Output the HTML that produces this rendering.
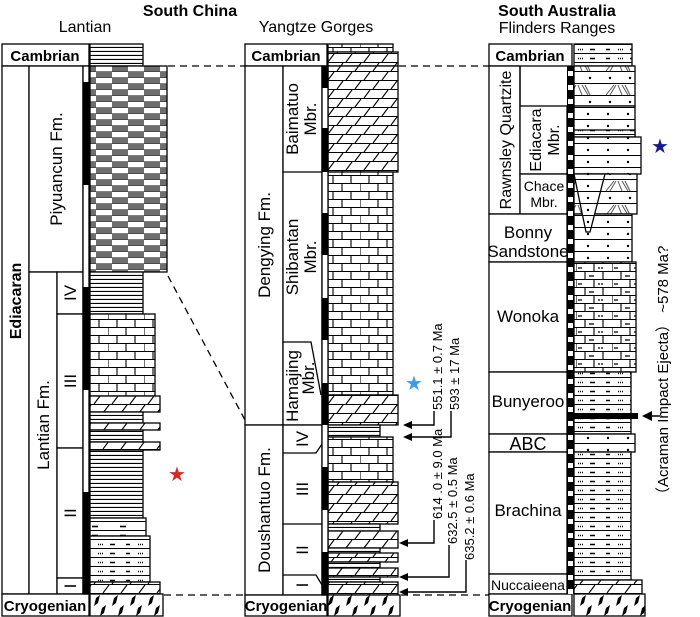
<!DOCTYPE html>
<html><head><meta charset="utf-8"><style>
html,body{margin:0;padding:0;background:#fff;}
svg{display:block;font-family:"Liberation Sans",Arial,sans-serif;}
</style></head><body>
<svg width="700" height="617" viewBox="0 0 700 617" xmlns="http://www.w3.org/2000/svg">
<defs>
<pattern id="hl" width="10" height="4" patternUnits="userSpaceOnUse"><rect width="10" height="4" fill="#fff"/><line x1="0" y1="3.5" x2="10" y2="3.5" stroke="#000" stroke-width="1.2"/></pattern>
<pattern id="brick" width="36" height="16" patternUnits="userSpaceOnUse"><rect width="36" height="16" fill="#fff"/><path d="M0 7.5H36M0 15.5H36M9 0V8M27 0V8M0 8V16M18 8V16" stroke="#000" stroke-width="1.1" fill="none"/></pattern>
<pattern id="dolo" width="36" height="18" patternUnits="userSpaceOnUse"><rect width="36" height="18" fill="#fff"/><path d="M0 8.5H36M0 17.5H36M4 8L10 0M22 8L28 0M13 17L19 9M31 17L37 9M-5 17L1 9" stroke="#000" stroke-width="1.1" fill="none"/></pattern>
<pattern id="chk" width="32" height="12" patternUnits="userSpaceOnUse"><rect width="32" height="12" fill="#fff"/><rect x="0" y="0" width="16" height="6" fill="#6e6e6e"/><rect x="16" y="6" width="16" height="6" fill="#6e6e6e"/><path d="M0 5.7H32M0 11.7H32" stroke="#333" stroke-width="0.6"/></pattern>
<pattern id="silt" width="40" height="9" patternUnits="userSpaceOnUse"><rect width="40" height="9" fill="#fff"/><line x1="0" y1="8.5" x2="40" y2="8.5" stroke="#000" stroke-width="1.1"/><path d="M6 4.5h4M18 4.5h1M20 4.5h1M22 4.5h1M30 4.5h5" stroke="#000" stroke-width="1.4"/></pattern>
<pattern id="shale" width="28" height="9" patternUnits="userSpaceOnUse"><rect width="28" height="9" fill="#fff"/><line x1="0" y1="8.5" x2="28" y2="8.5" stroke="#000" stroke-width="1.1"/><path d="M8 4.5h6" stroke="#000" stroke-width="1.6"/></pattern>
<pattern id="sand" width="20" height="12" patternUnits="userSpaceOnUse"><rect width="20" height="12" fill="#fff"/><line x1="0" y1="11.5" x2="20" y2="11.5" stroke="#000" stroke-width="1.1"/><circle cx="8" cy="6" r="1.2" fill="#000"/></pattern>
<pattern id="dia" width="18" height="22" patternUnits="userSpaceOnUse"><rect width="18" height="22" fill="#fff"/><path d="M6 4l4-3l-2 8l-4 3z M12 14l4-3l-2 8l-4 3z" fill="#000"/></pattern>
<pattern id="pchk" width="7" height="14" patternUnits="userSpaceOnUse"><rect width="7" height="14" fill="#000"/><rect x="1" y="1" width="5" height="5" fill="#fff"/></pattern>
<pattern id="lsilt" width="36" height="16" patternUnits="userSpaceOnUse"><rect width="36" height="16" fill="#fff"/><path d="M0 7.5H36M0 15.5H36M9 0V8M27 0V8M0 8V16M18 8V16" stroke="#000" stroke-width="1.1" fill="none"/><path d="M13 4h5M2 12h4M22 12h2M25 12h2" stroke="#000" stroke-width="1.3"/></pattern>
<pattern id="xbed" width="40" height="24" patternUnits="userSpaceOnUse"><rect width="40" height="24" fill="#fff"/><path d="M0 11.5H40M0 23.5H40" stroke="#000" stroke-width="1.1"/><circle cx="10" cy="6" r="1.2"/><circle cx="30" cy="6" r="1.2"/><path d="M6 23l8-10M10 23l6-10M22 13l6 10M25 13l5 10M18 13l4 10" stroke="#555" stroke-width="1"/></pattern>
</defs>

<text x="190" y="16" font-size="16" font-weight="bold" text-anchor="middle">South China</text>
<text x="85" y="32" font-size="16" text-anchor="middle">Lantian</text>
<text x="316" y="32" font-size="16" text-anchor="middle">Yangtze Gorges</text>
<text x="557" y="16" font-size="16" font-weight="bold" text-anchor="middle">South Australia</text>
<text x="557" y="33" font-size="16" text-anchor="middle">Flinders Ranges</text>

<g stroke="#000" stroke-width="1.3" stroke-dasharray="7,5" fill="none">
<path d="M168 66H245M399 66H489M164 595H245M401 595H489M168 276L245 420"/>
</g>

<g stroke="#000" stroke-width="1.3">
<rect x="90" y="44" width="53" height="22" fill="url(#hl)"/>
<rect x="90" y="66" width="77" height="206" fill="url(#chk)"/>
<rect x="90" y="272" width="53" height="42" fill="url(#hl)"/>
<rect x="90" y="314" width="65" height="82" fill="url(#brick)"/>
<rect x="90" y="396" width="70" height="16" fill="url(#dolo)"/>
<rect x="90" y="412" width="53" height="11" fill="url(#hl)"/>
<rect x="90" y="423" width="70" height="7" fill="url(#dolo)"/>
<rect x="90" y="430" width="53" height="12" fill="url(#hl)"/>
<rect x="90" y="442" width="70" height="8" fill="url(#dolo)"/>
<rect x="90" y="450" width="53" height="68" fill="url(#hl)"/>
<rect x="90" y="518" width="56" height="18" fill="url(#shale)"/>
<rect x="90" y="536" width="60" height="46" fill="url(#silt)"/>
<rect x="90" y="582" width="70" height="12" fill="url(#dolo)"/>
<rect x="90" y="594" width="73" height="22" fill="url(#dia)"/>

<rect x="2" y="44" width="87" height="22" fill="#fff"/>
<rect x="2" y="66" width="27" height="528" fill="#fff"/>
<rect x="29" y="66" width="54" height="206" fill="#fff"/>
<rect x="29" y="272" width="28" height="322" fill="#fff"/>
<rect x="57" y="272" width="26" height="42" fill="#fff"/>
<rect x="57" y="314" width="26" height="134" fill="#fff"/>
<rect x="57" y="448" width="26" height="130" fill="#fff"/>
<rect x="57" y="578" width="26" height="16" fill="#fff"/>
<rect x="2" y="594" width="87" height="22" fill="#fff"/>
<rect x="83" y="66" width="6" height="528" fill="#fff"/>
</g>
<g fill="#000">
<rect x="83" y="82" width="6" height="103"/><rect x="83" y="287" width="6" height="103"/><rect x="83" y="492" width="6" height="102"/>
</g>

<g stroke="#000" stroke-width="1.3">
<rect x="328" y="44" width="65" height="8" fill="url(#brick)"/>
<rect x="328" y="52" width="70" height="14" fill="url(#dolo)"/>
<rect x="328" y="66" width="70" height="106" fill="url(#dolo)"/>
<rect x="328" y="172" width="65" height="223" fill="url(#brick)"/>
<rect x="328" y="395" width="70" height="30" fill="url(#dolo)"/>
<rect x="328" y="425" width="52" height="12" fill="url(#hl)"/>
<rect x="328" y="437" width="65" height="45" fill="url(#brick)"/>
<rect x="328" y="482" width="70" height="42" fill="url(#dolo)"/>
<rect x="328" y="524" width="52" height="7" fill="url(#hl)"/>
<rect x="328" y="531" width="70" height="17" fill="url(#dolo)"/>
<rect x="328" y="548" width="52" height="5" fill="url(#hl)"/>
<rect x="328" y="553" width="70" height="9" fill="url(#dolo)"/>
<rect x="328" y="562" width="52" height="6" fill="url(#hl)"/>
<rect x="328" y="568" width="70" height="9" fill="url(#dolo)"/>
<rect x="328" y="577" width="52" height="5" fill="url(#hl)"/>
<rect x="328" y="582" width="70" height="13" fill="url(#dolo)"/>
<rect x="328" y="595" width="72" height="21" fill="url(#dia)"/>

<rect x="245" y="44" width="82" height="22" fill="#fff"/>
<rect x="245" y="66" width="38" height="359" fill="#fff"/>
<rect x="283" y="66" width="39" height="359" fill="#fff"/>
<rect x="245" y="425" width="38" height="170" fill="#fff"/>
<rect x="283" y="425" width="39" height="170" fill="#fff"/>
<rect x="245" y="595" width="82" height="21" fill="#fff"/>
<rect x="322" y="66" width="6" height="529" fill="#fff"/>
<path d="M283 172H322M283 342H311L321 395M283 453H316L322 444M283 524H322M283 575H316L322 585" fill="none"/>
</g>
<g fill="#000">
<rect x="322" y="66" width="6" height="22"/><rect x="322" y="128" width="6" height="44"/><rect x="322" y="213" width="6" height="42"/><rect x="322" y="298" width="6" height="42"/><rect x="322" y="383" width="6" height="42"/><rect x="322" y="467" width="6" height="43"/><rect x="322" y="552" width="6" height="43"/>
</g>

<g stroke="#000" stroke-width="1.4" fill="none">
<path d="M434 411V425H410M451 411V437H410M434 520V543H406M449 545V577H406M466 560V592H406"/>
</g>
<g fill="#000">
<path d="M403 425l9-4v8z M403 437l9-4v8z M399 543l9-4v8z M399 577l9-4v8z M399 592l9-4v8z"/>
</g>
<g font-size="13">
<text transform="translate(442,410) rotate(-90)">551.1 ± 0.7 Ma</text>
<text transform="translate(459,410) rotate(-90)">593 ± 17 Ma</text>
<text transform="translate(442,519) rotate(-90)">614 .0 ± 9.0 Ma</text>
<text transform="translate(457,544) rotate(-90)">632.5 ± 0.5 Ma</text>
<text transform="translate(474,560) rotate(-90)">635.2 ± 0.6 Ma</text>
</g>

<g stroke="#000" stroke-width="1.3">
<rect x="574" y="44" width="58" height="22" fill="url(#silt)"/>
<rect x="574" y="66" width="61" height="40" fill="url(#xbed)"/>
<rect x="574" y="106" width="61" height="31" fill="url(#sand)"/>
<rect x="574" y="130" width="61" height="7" fill="url(#silt)"/>
<rect x="574" y="137" width="67" height="37" fill="url(#sand)"/>
<rect x="574" y="174" width="63" height="40" fill="url(#xbed)"/>
<rect x="574" y="214" width="58" height="48" fill="url(#sand)"/>
<path d="M574 174H605L590 232H586Z" fill="url(#sand)"/>
<rect x="574" y="262" width="62" height="110" fill="url(#lsilt)"/>
<rect x="574" y="372" width="57" height="62" fill="url(#silt)"/>
<rect x="574" y="434" width="61" height="18" fill="url(#sand)"/>
<rect x="574" y="452" width="57" height="128" fill="url(#silt)"/>
<rect x="574" y="580" width="68" height="14" fill="url(#dolo)"/>
<rect x="574" y="594" width="71" height="22" fill="url(#dia)"/>

<rect x="489" y="44" width="83" height="22" fill="#fff"/>
<rect x="489" y="66" width="31" height="148" fill="#fff"/>
<rect x="520" y="106" width="47" height="68" fill="#fff"/>
<rect x="520" y="174" width="47" height="40" fill="#fff"/>
<rect x="489" y="214" width="78" height="48" fill="#fff"/>
<rect x="489" y="262" width="78" height="110" fill="#fff"/>
<rect x="489" y="372" width="78" height="62" fill="#fff"/>
<rect x="489" y="434" width="78" height="18" fill="#fff"/>
<rect x="489" y="452" width="78" height="122" fill="#fff"/>
<rect x="489" y="574" width="78" height="20" fill="#fff"/>
<rect x="489" y="594" width="83" height="22" fill="#fff"/>
<path d="M520 66V106" fill="none"/>
</g>
<rect x="567" y="66" width="7" height="528" fill="url(#pchk)"/>
<rect x="574" y="413" width="64" height="6" fill="#000"/>
<path d="M660 416H650" stroke="#000" stroke-width="1.5"/>
<path d="M642 416l10-5v10z" fill="#000"/>

<text x="0" y="0" font-size="15" transform="translate(668,502) rotate(-90)">（Acraman Impact Ejecta） ~578 Ma?</text>

<g font-size="15" font-weight="bold">
<text x="45" y="61" text-anchor="middle">Cambrian</text>
<text x="45" y="611" text-anchor="middle">Cryogenian</text>
<text x="286" y="61" text-anchor="middle">Cambrian</text>
<text x="286" y="611" text-anchor="middle">Cryogenian</text>
<text x="530" y="61" text-anchor="middle">Cambrian</text>
<text x="530" y="611" text-anchor="middle">Cryogenian</text>
<text transform="translate(21,301) rotate(-90)" text-anchor="middle" font-size="16">Ediacaran</text>
</g>
<g font-size="17">
<text transform="translate(62,169) rotate(-90)" text-anchor="middle">Piyuancun Fm.</text>
<text transform="translate(49,425) rotate(-90)" text-anchor="middle">Lantian  Fm.</text>
<text transform="translate(76,293) rotate(-90)" text-anchor="middle">IV</text>
<text transform="translate(76,381) rotate(-90)" text-anchor="middle">III</text>
<text transform="translate(76,513) rotate(-90)" text-anchor="middle">II</text>
<text transform="translate(76,586) rotate(-90)" text-anchor="middle">I</text>

<text transform="translate(270,245) rotate(-90)" text-anchor="middle">Dengying Fm.</text>
<text transform="translate(270,510) rotate(-90)" text-anchor="middle">Doushantuo Fm.</text>
<text transform="translate(298,119) rotate(-90)" text-anchor="middle">Baimatuo</text>
<text transform="translate(316,119) rotate(-90)" text-anchor="middle">Mbr.</text>
<text transform="translate(298,257) rotate(-90)" text-anchor="middle">Shibantan</text>
<text transform="translate(316,257) rotate(-90)" text-anchor="middle">Mbr.</text>
<text transform="translate(298,386) rotate(-90)" text-anchor="middle">Hamajing</text>
<text transform="translate(314,378) rotate(-90)" text-anchor="middle">Mbr.</text>
<text transform="translate(308,439) rotate(-90)" text-anchor="middle">IV</text>
<text transform="translate(308,489) rotate(-90)" text-anchor="middle">III</text>
<text transform="translate(308,550) rotate(-90)" text-anchor="middle">II</text>
<text transform="translate(308,585) rotate(-90)" text-anchor="middle">I</text>

<text transform="translate(511,140) rotate(-90)" text-anchor="middle" font-size="16">Rawnsley Quartzite</text>
<text transform="translate(541,140) rotate(-90)" text-anchor="middle" font-size="16">Ediacara</text>
<text transform="translate(559,140) rotate(-90)" text-anchor="middle" font-size="16">Mbr.</text>
<text x="528" y="238" text-anchor="middle">Bonny</text>
<text x="528" y="257" text-anchor="middle">Sandstone</text>
<text x="528" y="322" text-anchor="middle">Wonoka</text>
<text x="528" y="407" text-anchor="middle">Bunyeroo</text>
<text x="528" y="450" text-anchor="middle" font-size="18">ABC</text>
<text x="528" y="516" text-anchor="middle">Brachina</text>
</g>
<g font-size="14">
<text x="544" y="191" text-anchor="middle">Chace</text>
<text x="544" y="207" text-anchor="middle">Mbr.</text>
<text x="528" y="590" text-anchor="middle">Nuccaieena</text>
</g>

<text x="177" y="481" font-size="20" fill="#d42a22" text-anchor="middle">★</text>
<text x="414" y="390" font-size="20" fill="#3e9be8" text-anchor="middle">★</text>
<text x="660" y="153" font-size="20" fill="#1a1a8c" text-anchor="middle">★</text>
</svg>
</body></html>
